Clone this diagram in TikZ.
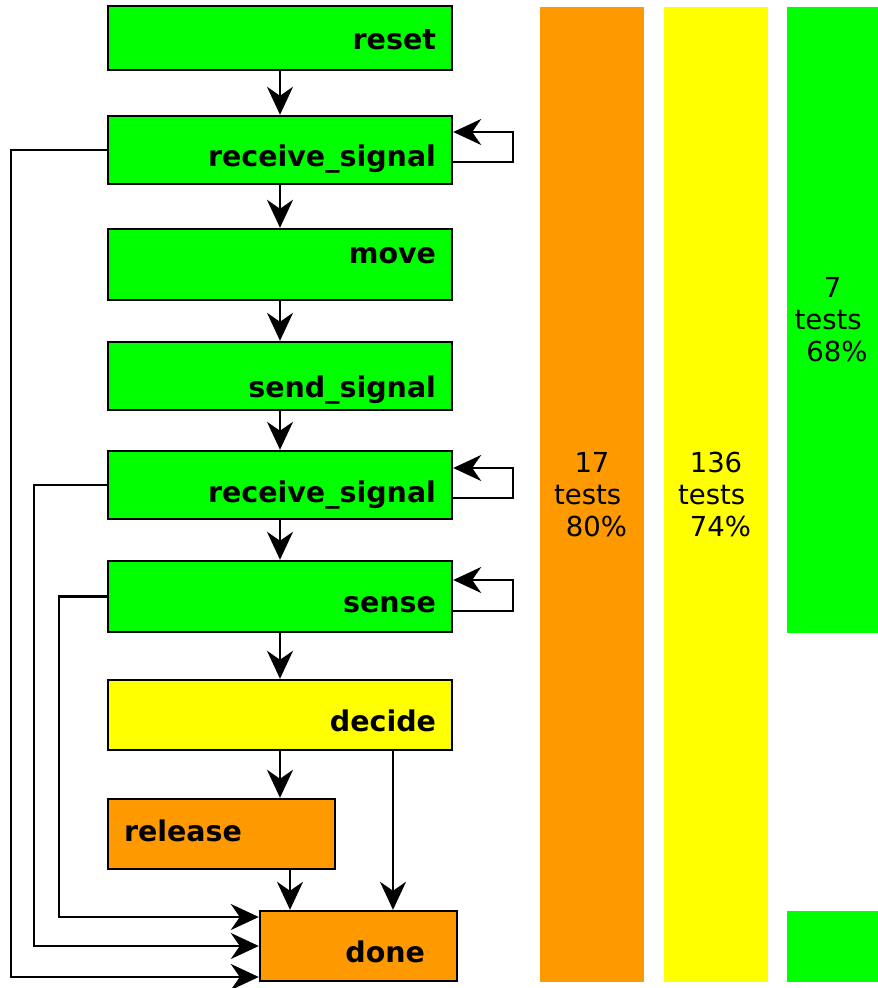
\documentclass[tikz,border=0pt]{standalone}
\usepackage{fontspec}
\setmainfont{DejaVu Sans}
\usetikzlibrary{arrows.meta,positioning}
\definecolor{passgreen}{HTML}{00FF00}
\definecolor{partyellow}{HTML}{FFFF00}
\definecolor{failorange}{HTML}{FF9900}

\begin{document}
\begin{tikzpicture}[x=1pt,y=-1pt,every node/.style={font=\fontsize{28.5}{34}\selectfont\bfseries},box/.style={rectangle,draw=black,line width=2.4pt,fill=passgreen,inner xsep=16pt,inner ysep=0pt,text width=312pt,align=right,minimum height=68pt,text height=28pt,text depth=6pt},bar/.style={rectangle,inner sep=0pt,minimum width=104pt,align=center,font=\fontsize{27.5}{32}\selectfont},flow/.style={-{Stealth[length=28pt,width=26pt,inset=9pt]},line width=2.4pt}]
\useasboundingbox (0,0) rectangle (878,988);
% states
\node[box,minimum height=64pt] (reset) at (280,38) {reset};
\node[box,text height=38pt] (rs1) at (280,150) {receive\_signal};
\node[box,minimum height=71pt,text depth=30pt] (move) at (280,264.5) {move};
\node[box,text height=48pt] (send) at (280,376) {send\_signal};
\node[box,text height=40pt] (rs2) at (280,485) {receive\_signal};
\node[box,minimum height=71pt,text height=38pt] (sense) at (280,596.5) {sense};
\node[box,fill=partyellow,minimum height=70pt,text height=38pt] (decide) at (280,715) {decide};
\node[box,fill=failorange,text width=195pt,align=left,minimum height=70pt,text depth=14pt] (release) at (221.5,834) {release};
\node[box,fill=failorange,text width=133pt,minimum width=197pt,minimum height=70pt,text height=38pt] (done) at (358.5,946) {done};
% coverage bars
\node[bar,fill=failorange,minimum height=975pt] (orangebar) at (592,494.5) {17~\\tests~~\\~80\%};
\node[bar,fill=partyellow,minimum height=975pt] (yellowbar) at (716,494.5) {136~\\tests~~\\~74\%};
\node[bar,fill=passgreen,minimum width=91pt,minimum height=626pt] (greenbar) at (832.5,320) {7~\\tests~~\\~68\%};
\node[bar,fill=passgreen,minimum width=91pt,minimum height=71pt] (greenrest) at (832.5,946.5) {};
% transitions
\draw[flow] (reset) -- (rs1);
\draw[flow] (rs1) -- (move);
\draw[flow] (move) -- (send);
\draw[flow] (send) -- (rs2);
\draw[flow] (rs2) -- (sense);
\draw[flow] (sense) -- (decide);
\draw[flow] (decide.south) -- (decide.south |- release.north);
\draw[flow] ([xshift=113pt]decide.south) -- ([xshift=113pt]decide.south |- done.north);
\draw[flow] ([xshift=68.5pt]release.south) -- ([xshift=68.5pt]release.south |- done.north);
\draw[flow] ([yshift=-12pt]rs1.east) -- ++(60,0) |- ([yshift=18pt]rs1.east);
\draw[flow] ([yshift=-13pt]rs2.east) -- ++(60,0) |- ([yshift=17pt]rs2.east);
\draw[flow] ([yshift=-14.5pt]sense.east) -- ++(60,0) |- ([yshift=16.5pt]sense.east);
\draw[flow] (rs1.west) -- ++(-96,0) |- ([yshift=-31pt]done.west);
\draw[flow] (rs2.west) -- ++(-73,0) |- (done.west);
\draw[flow] (sense.west) -- ++(-48,0) |- ([yshift=29pt]done.west);
\end{tikzpicture}
\end{document}
